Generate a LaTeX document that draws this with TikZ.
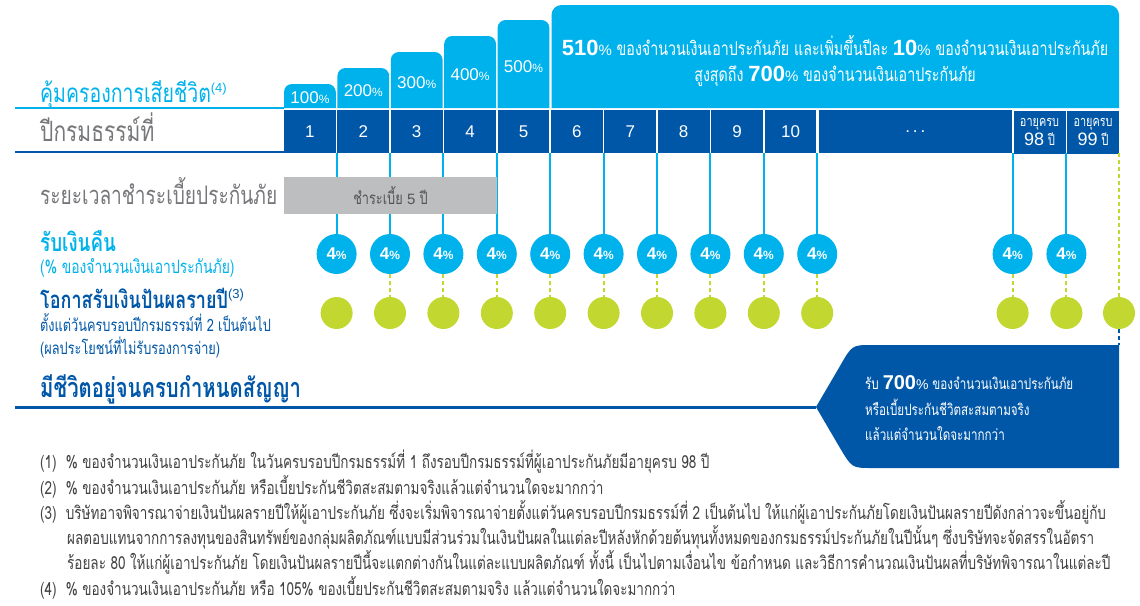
\documentclass[tikz,border=0pt]{standalone}
\usepackage{fontspec}
\setmainfont[Script=Thai,FakeStretch=0.75]{Loma}
\newfontfamily\numfont{Liberation Sans}
\usepackage{tikz}
\usetikzlibrary{positioning}

\definecolor{skyblue}{RGB}{0,178,236}
\definecolor{navyblue}{RGB}{0,87,167}
\definecolor{limegreen}{RGB}{194,215,47}
\definecolor{boxgrey}{RGB}{189,190,192}
\definecolor{labelgrey}{RGB}{118,119,122}
\definecolor{notegrey}{RGB}{65,64,66}

\newcommand{\fs}[1]{\fontsize{#1}{#1}\selectfont}
\newcommand{\pctsm}{{\fs{12}\%}}
\newcommand{\bignum}[2]{{\numfont\bfseries\fs{#1}#2}{\numfont\fs{15}\%}}

\tikzset{
  yearcell/.style={fill=navyblue, text=white, minimum height=43pt, inner sep=0pt, font=\numfont\fs{17}},
  barlabel/.style={text=white, inner sep=0pt, font=\numfont\fs{17}},
  refund/.style={circle, fill=skyblue, minimum size=40pt, inner sep=0pt, text=white, font=\numfont\bfseries\fs{17}},
  bonus/.style={circle, fill=limegreen, minimum size=32pt, inner sep=0pt},
  refline/.style={skyblue, line width=2pt},
  divline/.style={limegreen, line width=2pt, dash pattern=on 4pt off 3pt},
  leftlabel/.style={anchor=base west, inner sep=0pt},
  capline/.style={text=white, font=\fs{19}, inner sep=0pt, anchor=base},
  boxline/.style={anchor=base west, inner sep=0pt, text=white, font=\fs{15.5}},
  footnote/.style={anchor=base west, inner sep=0pt, text=notegrey, font=\fs{18}}
}

\begin{document}
\begin{tikzpicture}[x=1pt,y=-1pt]
\useasboundingbox (0,0) rectangle (1140,605);

\coordinate (rowtop) at (0,110);
\coordinate (rowbot) at (0,153);
\coordinate (boxtop) at (1119,345);

% death cover bars
\foreach \k/\top/\ty in {1/84/98, 2/68/90.5, 3/52/83, 4/36/75, 5/20/67} {
    \pgfmathsetmacro{\xl}{284+(\k-1)*53.4}
    \pgfmathsetmacro{\xr}{\xl+51.8}
    \fill[skyblue] (\xl,108) [rounded corners=8pt] -- (\xl,\top) -- (\xr,\top) [sharp corners] -- (\xr,108) -- cycle;
    \node[barlabel] (bar\k) at ({\xl+25.9},\ty) {\k00\pctsm};
}
\fill[skyblue] (551.5,108) [rounded corners=10pt] -- (551.5,5) -- (1119,5) [sharp corners] -- (1119,108) -- cycle;
\node[capline] (cap1) at (835,55) {\bignum{22}{510} ของจำนวนเงินเอาประกันภัย และเพิ่มขึ้นปีละ \bignum{22}{10} ของจำนวนเงินเอาประกันภัย};
\node[capline] (cap2) at (835,81) {สูงสุดถึง \bignum{22}{700} ของจำนวนเงินเอาประกันภัย};

% policy years
\foreach \k in {1,...,10} {
    \pgfmathsetmacro{\xc}{284+(\k-1)*53.4+25.9}
    \node[yearcell, minimum width=51.8pt] (yr\k) at (\xc,131.5) {\k};
}
\node[yearcell, minimum width=192.5pt] (yrdots) at (915.3,131.5) {.\,.\,.};
\node[yearcell, minimum width=52pt, align=center, font=\fs{14.5}] (yr98) at (1039.5,132) {อายุครบ\\[1pt]{\numfont\fs{18}98} {\fs{15}ปี}};
\node[yearcell, minimum width=52pt, align=center, font=\fs{14.5}] (yr99) at (1093,132) {อายุครบ\\[1pt]{\numfont\fs{18}99} {\fs{15}ปี}};

\draw[skyblue, line width=2.5pt] (15,108) -- (284,108);
\draw[navyblue, line width=2.5pt] (15,152) -- (284,152);

% refund and dividend circles
\foreach \x [count=\i] in {336.6,390,443.4,496.8,550.2,603.6,657,710.4,763.8,817.2,1012.6,1066.4} {
    \node[refund] (rf\i) at (\x,254) {4{\fs{12}\%}};
    \node[bonus] (dv\i) at (\x,313) {};
}
\node[bonus] (dv13) at (1119,313) {};

\foreach \i in {1,...,12}
    \draw[refline] (rf\i |- rowbot) -- (rf\i);
\foreach \i in {2,...,12}
    \draw[divline] (rf\i) -- (dv\i);
\draw[divline] (dv13 |- rowbot) -- (dv13);
\draw[navyblue, line width=2pt, dash pattern=on 4pt off 3pt] (dv13) -- (boxtop);

\node[fill=boxgrey, minimum width=213pt, minimum height=37pt, inner sep=0pt, text=notegrey!90, font=\fs{17}] (paybox) at (390.5,195.5) {ชำระเบี้ย {\numfont\fs{15}5} ปี};

% left labels
\node[leftlabel, text=skyblue, font=\fs{26}] (lcover) at (40,102) {คุ้มครองการเสียชีวิต\textsuperscript{\numfont\fs{13}(4)}};
\node[leftlabel, text=labelgrey, font=\fs{28}] (lyear) at (40,141) {ปีกรมธรรม์ที่};
\node[leftlabel, text=labelgrey, font=\fs{25.5}] (lpay) at (40,204) {ระยะเวลาชำระเบี้ยประกันภัย};
\node[leftlabel, text=skyblue, font=\bfseries\fs{25}] (lrefund) at (40,251) {รับเงินคืน};
\node[leftlabel, text=skyblue, font=\fs{18.5}] (lrefund2) at (40,273) {(\% ของจำนวนเงินเอาประกันภัย)};
\node[leftlabel, text=navyblue, font=\bfseries\fs{24}] (ldiv) at (40,308) {โอกาสรับเงินปันผลรายปี\textsuperscript{\numfont\mdseries\fs{13}(3)}};
\node[leftlabel, text=navyblue, font=\fs{17}] (ldiv2) at (40,331) {ตั้งแต่วันครบรอบปีกรมธรรม์ที่ 2 เป็นต้นไป};
\node[leftlabel, text=navyblue, font=\fs{17}] (ldiv3) at (40,354) {(ผลประโยชน์ที่ไม่รับรองการจ่าย)};
\node[leftlabel, text=navyblue, font=\bfseries\fs{27}] (lmature) at (40,397) {มีชีวิตอยู่จนครบกำหนดสัญญา};

% maturity
\coordinate (matstart) at (15,407);
\coordinate (boxtip) at (816,407);
\draw[navyblue, line width=3pt] (matstart) -- (boxtip);
\fill[navyblue] (boxtop) -- (872,345) .. controls (852,345) .. (840,366) -- (boxtip) -- (840,448) .. controls (852,468) .. (872,468) -- (1119,468) -- cycle;
\node[boxline] (mat1) at (865,389) {รับ {\numfont\bfseries\fs{20}700}{\numfont\fs{14}\%} ของจำนวนเงินเอาประกันภัย};
\node[boxline] (mat2) at (865,415) {หรือเบี้ยประกันชีวิตสะสมตามจริง};
\node[boxline] (mat3) at (865,440) {แล้วแต่จำนวนใดจะมากกว่า};

% notes
\node[footnote] (n1) at (40,468) {(1)\ \ \% ของจำนวนเงินเอาประกันภัย ในวันครบรอบปีกรมธรรม์ที่ 1 ถึงรอบปีกรมธรรม์ที่ผู้เอาประกันภัยมีอายุครบ 98 ปี};
\node[footnote] (n2) at (40,494) {(2)\ \ \% ของจำนวนเงินเอาประกันภัย หรือเบี้ยประกันชีวิตสะสมตามจริงแล้วแต่จำนวนใดจะมากกว่า};
\node[footnote] (n3) at (40,519) {(3)\ \ บริษัทอาจพิจารณาจ่ายเงินปันผลรายปีให้ผู้เอาประกันภัย ซึ่งจะเริ่มพิจารณาจ่ายตั้งแต่วันครบรอบปีกรมธรรม์ที่ 2 เป็นต้นไป ให้แก่ผู้เอาประกันภัยโดยเงินปันผลรายปีดังกล่าวจะขึ้นอยู่กับ};
\node[footnote] (n3b) at (67,544) {ผลตอบแทนจากการลงทุนของสินทรัพย์ของกลุ่มผลิตภัณฑ์แบบมีส่วนร่วมในเงินปันผลในแต่ละปีหลังหักด้วยต้นทุนทั้งหมดของกรมธรรม์ประกันภัยในปีนั้นๆ ซึ่งบริษัทจะจัดสรรในอัตรา};
\node[footnote] (n3c) at (67,569) {ร้อยละ 80 ให้แก่ผู้เอาประกันภัย โดยเงินปันผลรายปีนี้จะแตกต่างกันในแต่ละแบบผลิตภัณฑ์ ทั้งนี้ เป็นไปตามเงื่อนไข ข้อกำหนด และวิธีการคำนวณเงินปันผลที่บริษัทพิจารณาในแต่ละปี};
\node[footnote] (n4) at (40,595) {(4)\ \ \% ของจำนวนเงินเอาประกันภัย หรือ 105\% ของเบี้ยประกันชีวิตสะสมตามจริง แล้วแต่จำนวนใดจะมากกว่า};

\end{tikzpicture}
\end{document}
